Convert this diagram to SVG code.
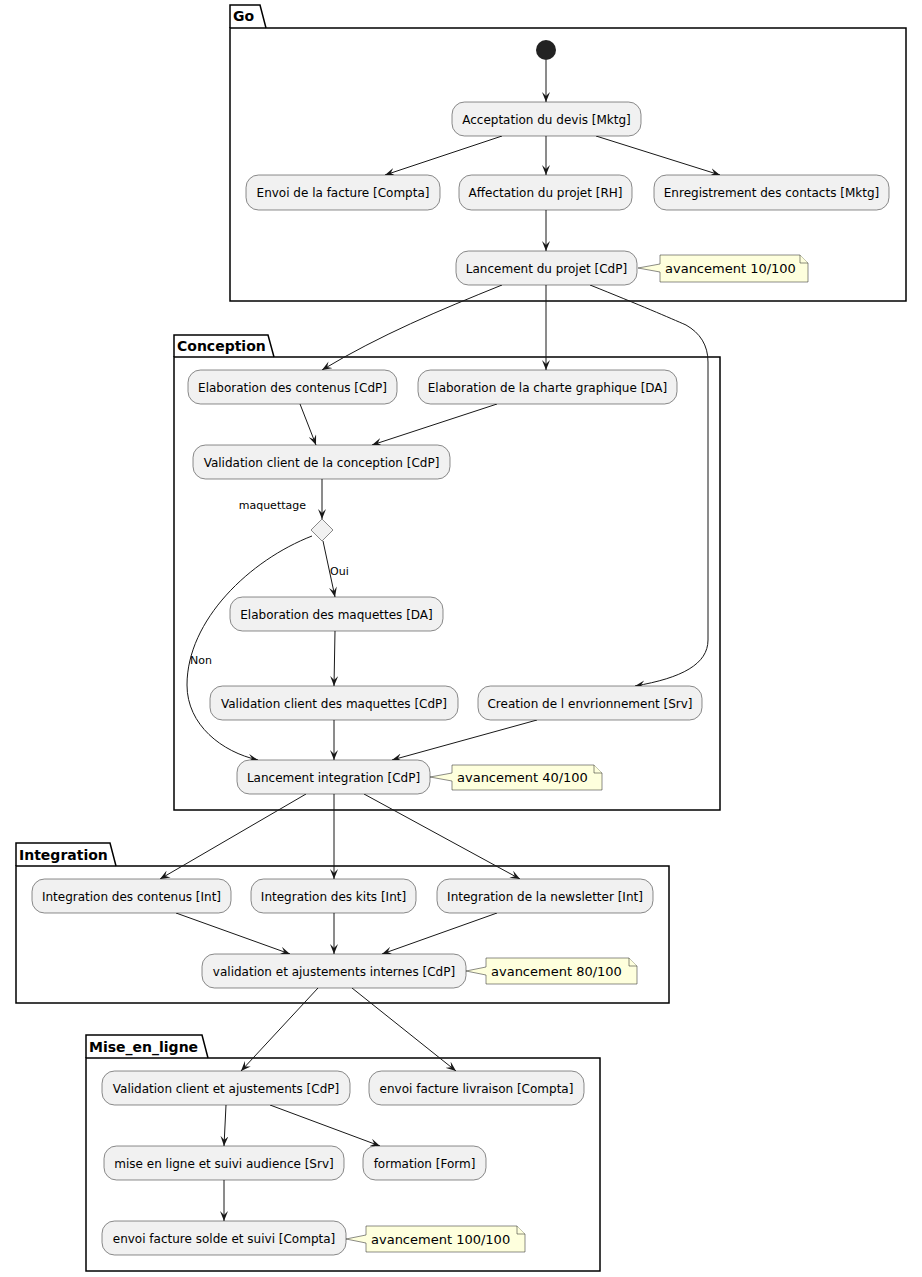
<svg xmlns="http://www.w3.org/2000/svg" width="922" height="1277" viewBox="0 0 922 1277">
<defs>
<style>
.pk{fill:none;stroke:#000;stroke-width:1.5}
.pt{font-family:"DejaVu Sans",sans-serif;font-size:14px;font-weight:bold;fill:#000}
.act rect{fill:#F1F1F1;stroke:#181818;stroke-width:0.5}
.act text,.t{font-family:"DejaVu Sans",sans-serif;font-size:12px;fill:#000;text-anchor:middle}
.note path{fill:#FEFFDD;stroke:#181818;stroke-width:0.5}
.note text{font-family:"DejaVu Sans",sans-serif;font-size:13px;fill:#000}
.lbl{font-family:"DejaVu Sans",sans-serif;font-size:11px;fill:#000}
#connectors path{fill:none;stroke:#181818;stroke-width:1;marker-end:url(#ah)}
</style>
<marker id="ah" markerWidth="10" markerHeight="8" refX="10" refY="4" orient="auto" markerUnits="userSpaceOnUse">
<path d="M0,0 L10,4 L0,8 L4,4 Z" fill="#181818"/>
</marker>
</defs>
<rect width="922" height="1277" fill="#fff"/>

<g id="pkg-go">
<path class="pk" d="M230,28 L230,5 L260,5 L266,28"/>
<rect class="pk" x="230" y="28" width="676" height="273"/>
<text class="pt" x="233" y="21">Go</text>
</g>
<g id="pkg-conception">
<path class="pk" d="M174,357 L174,335 L268,335 L274,357"/>
<rect class="pk" x="174" y="357" width="546" height="453"/>
<text class="pt" x="177" y="351">Conception</text>
</g>
<g id="pkg-integration">
<path class="pk" d="M16,866 L16,843 L110,843 L116,866"/>
<rect class="pk" x="16" y="866" width="653" height="137"/>
<text class="pt" x="19" y="860">Integration</text>
</g>
<g id="pkg-mise">
<path class="pk" d="M86,1058 L86,1035 L202,1035 L208,1058"/>
<rect class="pk" x="86" y="1058" width="514" height="213"/>
<text class="pt" x="89" y="1052">Mise_en_ligne</text>
</g>

<g id="connectors">
<path d="M546,60 L546,102"/>
<path d="M502,136 L385,175"/>
<path d="M546,136 L546,175"/>
<path d="M596,136 L720,175"/>
<path d="M546,210 L546,251"/>
<path d="M502,285 C440,310 380,335 322,370"/>
<path d="M546,285 L546,370"/>
<path d="M590,285 C640,305 670,318 686,325 C700,333 708,345 708,362 L708,640 C708,664 682,678 635,686"/>
<path d="M300,404 L316,445"/>
<path d="M497,404 L372,445"/>
<path d="M322,479 L322,519"/>
<path d="M323,541 L335,597"/>
<path d="M312,536 C250,560 187,620 187,685 C187,725 222,752 258,760"/>
<path d="M335,631 L334,686"/>
<path d="M334,720 L334,760"/>
<path d="M537,720 L392,760"/>
<path d="M306,794 L160,879"/>
<path d="M334,794 L334,879"/>
<path d="M364,794 L520,879"/>
<path d="M176,913 L290,954"/>
<path d="M334,913 L334,954"/>
<path d="M497,913 L382,954"/>
<path d="M318,988 L241,1071"/>
<path d="M352,988 L456,1071"/>
<path d="M226,1105 L224,1146"/>
<path d="M270,1105 L380,1146"/>
<path d="M224,1180 L224,1221"/>
<text class="lbl" x="306" y="509" text-anchor="end">maquettage</text>
<text class="lbl" x="330" y="575">Oui</text>
<text class="lbl" x="190" y="664">Non</text>
</g>

<g id="start"><circle cx="546" cy="50" r="10" fill="#222"/></g>

<g id="n-acceptation" class="act"><rect x="452" y="102" width="189" height="34" rx="12.5"/><text x="546.5" y="123.5">Acceptation du devis [Mktg]</text></g>
<g id="n-envoi-facture" class="act"><rect x="246" y="175" width="194" height="35" rx="12.5"/><text x="343" y="197">Envoi de la facture [Compta]</text></g>
<g id="n-affectation" class="act"><rect x="459" y="175" width="173" height="35" rx="12.5"/><text x="545.5" y="197">Affectation du projet [RH]</text></g>
<g id="n-enregistrement" class="act"><rect x="654" y="175" width="235" height="35" rx="12.5"/><text x="771.5" y="197">Enregistrement des contacts [Mktg]</text></g>
<g id="n-lancement-projet" class="act"><rect x="456" y="251" width="181" height="34" rx="12.5"/><text x="546.5" y="272.5">Lancement du projet [CdP]</text></g>
<g id="note-10" class="note"><path d="M660,255 L800,255 L808,263 L808,282 L660,282 L660,272 L638,268 L660,264 Z"/><path d="M800,255 L800,263 L808,263"/><text x="665" y="273">avancement 10/100</text></g>

<g id="n-elab-contenus" class="act"><rect x="188" y="370" width="209" height="34" rx="12.5"/><text x="292.5" y="391.5">Elaboration des contenus [CdP]</text></g>
<g id="n-elab-charte" class="act"><rect x="418" y="370" width="259" height="34" rx="12.5"/><text x="547.5" y="391.5">Elaboration de la charte graphique [DA]</text></g>
<g id="n-valid-conception" class="act"><rect x="193" y="445" width="257" height="34" rx="12.5"/><text x="321.5" y="466.5">Validation client de la conception [CdP]</text></g>
<g id="n-decision"><path d="M322,519 L333,530 L322,541 L311,530 Z" fill="#F1F1F1" stroke="#181818" stroke-width="0.5"/></g>
<g id="n-elab-maquettes" class="act"><rect x="230" y="597" width="213" height="34" rx="12.5"/><text x="336.5" y="618.5">Elaboration des maquettes [DA]</text></g>
<g id="n-valid-maquettes" class="act"><rect x="210" y="686" width="248" height="34" rx="12.5"/><text x="334" y="707.5">Validation client des maquettes [CdP]</text></g>
<g id="n-creation-env" class="act"><rect x="478" y="686" width="224" height="34" rx="12.5"/><text x="590" y="707.5">Creation de l envrionnement [Srv]</text></g>
<g id="n-lancement-integration" class="act"><rect x="237" y="760" width="193" height="34" rx="12.5"/><text x="333.5" y="781.5">Lancement integration [CdP]</text></g>
<g id="note-40" class="note"><path d="M452,765 L594,765 L602,773 L602,790 L452,790 L452,781 L430,777 L452,773 Z"/><path d="M594,765 L594,773 L602,773"/><text x="457" y="782">avancement 40/100</text></g>

<g id="n-int-contenus" class="act"><rect x="32" y="879" width="199" height="34" rx="12.5"/><text x="131.5" y="900.5">Integration des contenus [Int]</text></g>
<g id="n-int-kits" class="act"><rect x="251" y="879" width="165" height="34" rx="12.5"/><text x="333.5" y="900.5">Integration des kits [Int]</text></g>
<g id="n-int-newsletter" class="act"><rect x="437" y="879" width="216" height="34" rx="12.5"/><text x="545" y="900.5">Integration de la newsletter [Int]</text></g>
<g id="n-valid-internes" class="act"><rect x="202" y="954" width="264" height="34" rx="12.5"/><text x="334" y="975.5">validation et ajustements internes [CdP]</text></g>
<g id="note-80" class="note"><path d="M486,958 L629,958 L637,966 L637,984 L486,984 L486,975 L466,971 L486,967 Z"/><path d="M629,958 L629,966 L637,966"/><text x="491" y="976">avancement 80/100</text></g>

<g id="n-valid-client-ajust" class="act"><rect x="102" y="1071" width="248" height="34" rx="12.5"/><text x="226" y="1092.5">Validation client et ajustements [CdP]</text></g>
<g id="n-envoi-livraison" class="act"><rect x="369" y="1071" width="215" height="34" rx="12.5"/><text x="476.5" y="1092.5">envoi facture livraison [Compta]</text></g>
<g id="n-mise-en-ligne" class="act"><rect x="104" y="1146" width="240" height="34" rx="12.5"/><text x="224" y="1167.5">mise en ligne et suivi audience [Srv]</text></g>
<g id="n-formation" class="act"><rect x="363" y="1146" width="123" height="34" rx="12.5"/><text x="424.5" y="1167.5">formation [Form]</text></g>
<g id="n-envoi-solde" class="act"><rect x="102" y="1221" width="244" height="34" rx="12.5"/><text x="224" y="1242.5">envoi facture solde et suivi [Compta]</text></g>
<g id="note-100" class="note"><path d="M366,1226 L517,1226 L525,1234 L525,1252 L366,1252 L366,1243 L346,1239 L366,1235 Z"/><path d="M517,1226 L517,1234 L525,1234"/><text x="371" y="1244">avancement 100/100</text></g>
</svg>
